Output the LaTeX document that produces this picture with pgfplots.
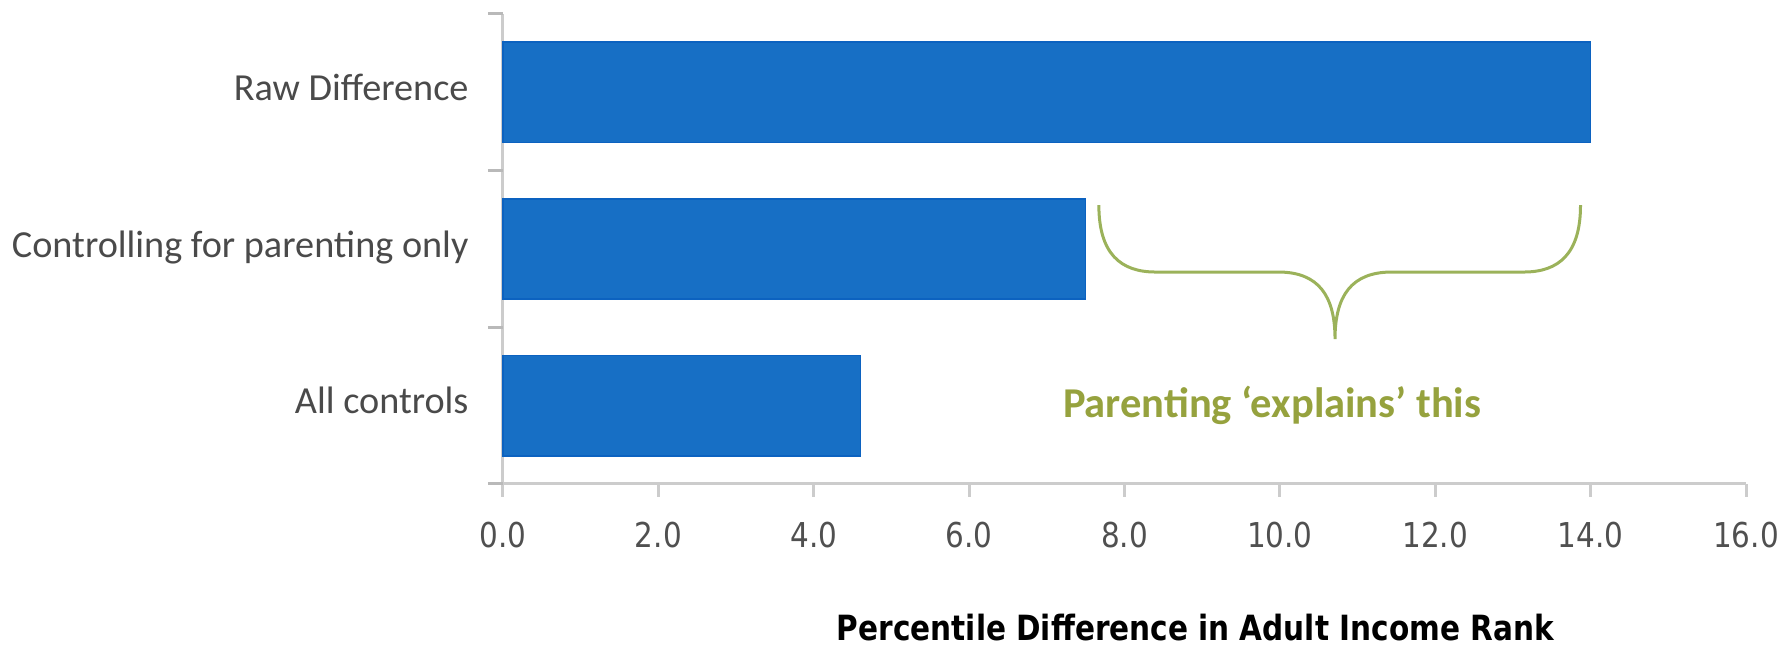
\documentclass[border=0pt]{standalone}
\usepackage{fontspec}
\setmainfont{Carlito}
\newfontfamily\axisnumfont{DejaVu Sans}[FakeStretch=0.86]
\newfontfamily\titlefont{DejaVu Sans}[FakeStretch=0.85]
\usepackage{pgfplots}
\pgfplotsset{compat=1.18}

\definecolor{barblue}{RGB}{23,111,197}
\definecolor{baredge}{RGB}{12,98,192}
\definecolor{axgray}{RGB}{204,204,204}
\definecolor{tickgray}{RGB}{185,185,185}
\definecolor{labelgray}{RGB}{74,74,74}
\definecolor{numgray}{RGB}{80,80,80}
\definecolor{bracegreen}{RGB}{155,178,90}
\definecolor{notegreen}{RGB}{150,162,62}

\begin{document}
\begin{tikzpicture}
\useasboundingbox (-201.2pt,-65.2pt) rectangle (511.2pt,193.6pt);
\begin{axis}[
  at={(0pt,0pt)}, anchor=south west,
  scale only axis, width=497.2pt, height=188pt,
  xbar, bar width=0.64,
  xmin=0, xmax=16, ymin=-0.5, ymax=2.5,
  separate axis lines,
  axis x line*=bottom, axis y line*=left,
  axis line style={draw=axgray, line width=1.2pt, -},
  tick align=outside,
  major tick length=5.2pt,
  xtick={0,2,...,16},
  xtick style={draw=axgray, line width=1.2pt},
  xticklabel style={font=\axisnumfont\fontsize{13.7}{15}\selectfont, text=numgray,
    anchor=center, yshift=-15.2pt,
    /pgf/number format/.cd, fixed, fixed zerofill, precision=1, assume math mode=true},
  ytick={0,1,2},
  yticklabels={All controls, Controlling for parenting only, Raw Difference},
  ytick style={draw=none},
  yticklabel style={font=\fontsize{15.3}{17}\selectfont, text=labelgray,
    anchor=east, inner sep=0pt, xshift=-8.4pt, text height=0.66em, text depth=0pt},
  extra y ticks={-0.5,0.5,1.5,2.5},
  extra y tick labels={},
  extra y tick style={ytick style={draw=tickgray, line width=1.2pt}, major tick length=6pt},
  xlabel={Percentile Difference in Adult Income Rank},
  xlabel style={font=\titlefont\bfseries\fontsize{13.9}{16}\selectfont, text=black,
    at={(axis description cs:0.557,0)}, anchor=center, yshift=-57.6pt},
  clip=false,
]
\addplot[fill=barblue, draw=baredge, line width=0.6pt]
  coordinates {(4.6,0) (7.5,1) (14.0,2)};

% brace over the gap between the raw difference and the parenting-only estimate
\draw[bracegreen, line width=1.2pt]
  (axis cs:7.67,1.28) .. controls (axis cs:7.67,0.97) and (axis cs:7.95,0.853) .. (axis cs:8.4,0.853)
  -- (axis cs:9.98,0.853) .. controls (axis cs:10.5,0.853) and (axis cs:10.71,0.70) .. (axis cs:10.71,0.425)
  .. controls (axis cs:10.71,0.70) and (axis cs:10.92,0.853) .. (axis cs:11.44,0.853)
  -- (axis cs:13.14,0.853) .. controls (axis cs:13.59,0.853) and (axis cs:13.87,0.97) .. (axis cs:13.87,1.28);
\node[text=notegreen, font=\bfseries\fontsize{17}{20}\selectfont] at (axis cs:9.9,0.0)
  {Parenting ‘explains’ this};
\end{axis}
\end{tikzpicture}
\end{document}
